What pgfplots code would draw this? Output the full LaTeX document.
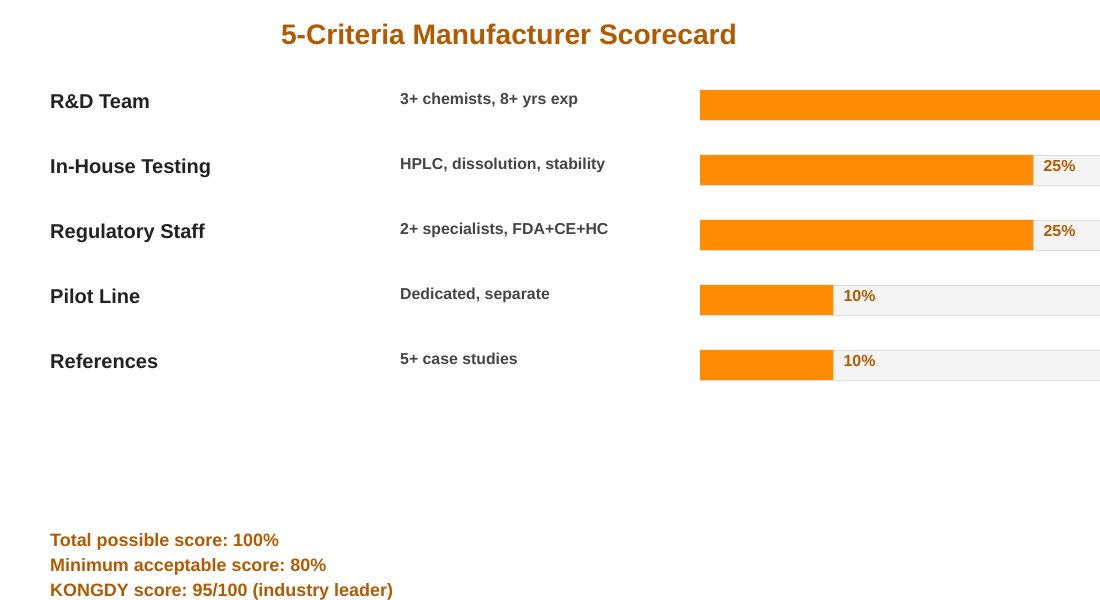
\documentclass[border=0pt]{standalone}
\usepackage{fontspec}
\setmainfont{Liberation Sans}
\usepackage{pgfplots}
\usepackage{pgfplotstable}
\pgfplotsset{compat=1.18}
\frenchspacing

\definecolor{barorange}{HTML}{FF8C00}
\definecolor{titlebrown}{HTML}{B35900}
\definecolor{bggray}{HTML}{F4F4F4}
\definecolor{edgegray}{HTML}{DDDDDD}
\definecolor{labeldark}{HTML}{222222}
\definecolor{descgray}{HTML}{444444}

% row, weight (%), full scale
\pgfplotstableread{
row score full
0   30    30
1   25    30
2   25    30
3   10    30
4   10    30
}\scores

\begin{document}
\begin{tikzpicture}[x=1bp,y=1bp]
\useasboundingbox (0,0) rectangle (1100,600);
\clip (0,0) rectangle (1100,600);

\node[anchor=base, inner sep=0pt, text=titlebrown,
      font=\fontsize{28.3}{32}\selectfont\bfseries] at (509,555)
  {5-Criteria Manufacturer Scorecard};

\begin{axis}[
    at={(700bp,527.5bp)}, anchor=north west,
    scale only axis,
    width=400bp, height=325bp,
    xmin=0, xmax=30,
    ymin=-0.5, ymax=4.5,
    y dir=reverse,
    hide axis,
    clip=false,
    xbar, bar shift=0pt, bar width=30bp,
    /pgf/number format/assume math mode=true,
]
\addplot[fill=bggray, draw=edgegray, line width=0.8bp]
    table[x=full, y=row] {\scores};
% first row fills the whole scale, its label falls off the page
\addplot[fill=barorange, draw=none, skip coords between index={1}{5}]
    table[x=score, y=row] {\scores};
\addplot[fill=barorange, draw=none, skip coords between index={0}{1},
    nodes near coords={\pgfmathprintnumber{\pgfplotspointmeta}\%},
    point meta=x,
    every node near coord/.style={anchor=base west, inner sep=0pt,
        xshift=10bp, yshift=-2bp, text=titlebrown,
        font=\fontsize{16}{19}\selectfont\bfseries},
    ] table[x=score, y=row] {\scores};
\end{axis}

\foreach \r/\lab/\desc in {
    0/R\&D Team/{3+ chemists, 8+ yrs exp},
    1/In-House Testing/{HPLC, dissolution, stability},
    2/Regulatory Staff/{2+ specialists, FDA+CE+HC},
    3/Pilot Line/{Dedicated, separate},
    4/References/{5+ case studies}} {
  \node[anchor=base west, inner sep=0pt, text=labeldark,
        font=\fontsize{20.1}{23}\selectfont\bfseries]
    at (50,491-65*\r) {\lab};
  \node[anchor=base west, inner sep=0pt, text=descgray,
        font=\fontsize{15.9}{19}\selectfont\bfseries]
    at (400,495-65*\r) {\desc};
}

\begin{scope}[every node/.style={anchor=base west, inner sep=0pt,
      text=titlebrown, font=\fontsize{18}{21}\selectfont\bfseries}]
\node at (50,53) {Total possible score: 100\%};
\node at (50,28) {Minimum acceptable score: 80\%};
\node at (50,3) {KONGDY score: 95/100 (industry leader)};
\end{scope}
\end{tikzpicture}
\end{document}
